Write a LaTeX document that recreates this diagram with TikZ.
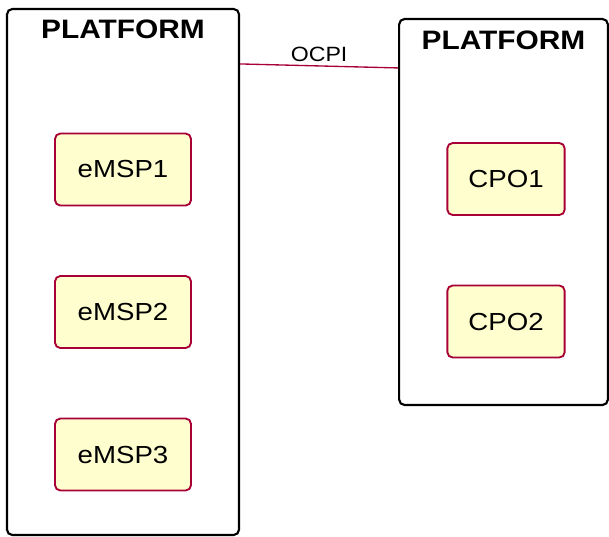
\documentclass[tikz,border=0pt]{standalone}
\usepackage{fontspec}
\setmainfont{Liberation Sans}
\usetikzlibrary{positioning}
\definecolor{umlred}{HTML}{A80036}
\definecolor{umlfill}{HTML}{FEFECE}
\tikzset{
  platform/.style={draw=black, line width=1.6pt, rounded corners=4pt, inner sep=0pt},
  ptitle/.style={font=\bfseries\fontsize{20}{22}\selectfont, inner sep=0pt},
  party/.style={draw=umlred, fill=umlfill, line width=1.4pt, rounded corners=4pt,
    minimum width=102pt, minimum height=54pt, font=\fontsize{18.5}{20}\selectfont},
  link/.style={draw=umlred, line width=1pt}
}
\newcommand{\wide}[1]{\scalebox{1.12}[1]{#1}}
\begin{document}
\begin{tikzpicture}[x=0.75pt, y=-0.75pt]
    \useasboundingbox (0,0) rectangle (609,536);

    \node[platform, minimum width=174pt, minimum height=394.5pt] (lp) at (123,272) {};
    \node[platform, minimum width=156.5pt, minimum height=289.5pt] (rp) at (503.5,212) {};
    \node[ptitle, below=9pt of lp.north] (lpt) {\wide{PLATFORM}};
    \node[ptitle, below=9.5pt of rp.north] (rpt) {\wide{PLATFORM}};

    \foreach \i/\t in {1/eMSP1,2/eMSP2,3/eMSP3} {
      \node[party] (emsp\i) at (123,27+\i*142.5) {\wide{\t}};
    }
    \foreach \i/\t in {1/CPO1,2/CPO2} {
      \node[party, minimum width=88pt] (cpo\i) at (506,36.5+\i*142.5) {\wide{\t}};
    }

    \draw[link] ([yshift=-42pt]lp.north east) -- node[above=3pt, font=\fontsize{15.5}{18}\selectfont, inner sep=0pt] (ocpi) {\wide{OCPI}} ([yshift=-37.5pt]rp.north west);
  \end{tikzpicture}
\end{document}
